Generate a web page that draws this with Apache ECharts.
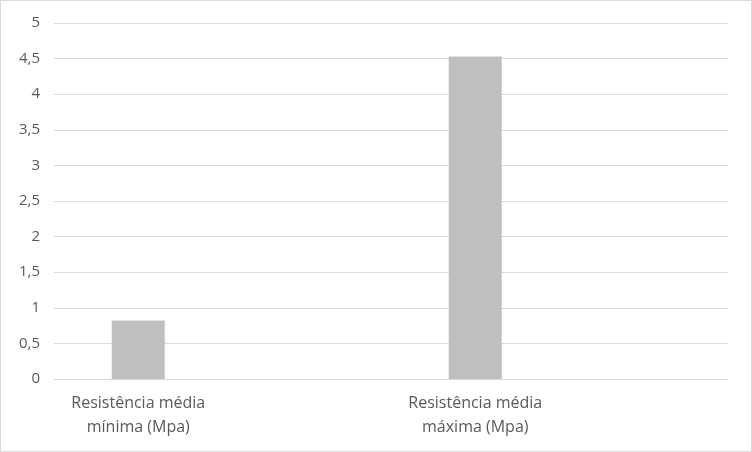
<!DOCTYPE html>
<html>
<head>
<meta charset="utf-8">
<script src="https://cdn.jsdelivr.net/npm/echarts@6/dist/echarts.min.js"></script>
<style>
  html, body { margin: 0; padding: 0; background: #fff; }
  #chart { width: 752px; height: 452px; box-sizing: border-box; border: 1px solid #d9d9d9; }
</style>
</head>
<body>
<div id="chart"></div>
<script>
// categorias (com espaços vazios, como no gráfico original)
var categories = ['Resistência média\nmínima (Mpa)', '', 'Resistência média\nmáxima (Mpa)', ''];
var values = [0.82, null, 4.53, null];
var yTicks = [0, 0.5, 1, 1.5, 2, 2.5, 3, 3.5, 4, 4.5, 5];

var chart = echarts.init(document.getElementById('chart'));

chart.setOption({
  animation: false,
  grid: { left: 53, right: 23, top: 22, bottom: 72, containLabel: false },
  xAxis: {
    type: 'category',
    data: categories,
    axisLine: { lineStyle: { color: '#d9d9d9', width: 1 } },
    axisTick: { show: false },
    axisLabel: {
      interval: 0,
      color: '#595959',
      fontSize: 16,
      fontFamily: 'Open Sans',
      lineHeight: 24,
      margin: 12
    }
  },
  yAxis: {
    type: 'value',
    min: yTicks[0],
    max: yTicks[yTicks.length - 1],
    interval: 0.5,
    axisLine: { show: false },
    axisTick: { show: false },
    splitLine: { lineStyle: { color: '#d9d9d9', width: 1 } },
    axisLabel: {
      color: '#595959',
      fontSize: 15,
      fontFamily: 'Open Sans',
      margin: 14,
      formatter: function (v) {
        return String(v).replace('.', ',');
      }
    }
  },
  series: [{
    type: 'bar',
    data: values,
    barWidth: 53,
    itemStyle: { color: '#bfbfbf' }
  }]
});
</script>
</body>
</html>
